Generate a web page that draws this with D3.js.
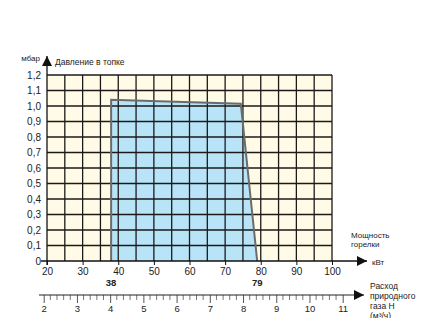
<!DOCTYPE html>
<html>
<head>
<meta charset="utf-8">
<script src="https://cdn.jsdelivr.net/npm/d3@7"></script>
<style>
  body { margin: 0; background: #fff; }
  text { font-family: "Liberation Sans", Arial, sans-serif; fill: #222; }
</style>
</head>
<body>
<div id="chart"></div>
<script>
//Data
const powerTicks = [20, 30, 40, 50, 60, 70, 80, 90, 100];
const pressureTicks = [0, 0.1, 0.2, 0.3, 0.4, 0.5, 0.6, 0.7, 0.8, 0.9, 1.0, 1.1, 1.2];
const areaPower = [38, 38, 74.4, 79];
const areaPressure = [0, 1.04, 1.015, 0];
const markedPower = [38, 79];
const gasTicks = [2, 3, 4, 5, 6, 7, 8, 9, 10, 11];

const width = 422;
const height = 318;

const svg = d3.select("#chart").append("svg").attr("width", width).attr("height", height);

//Scales
const x = d3.scaleLinear().domain([20, 100]).range([47, 332]);
const y = d3.scaleLinear().domain([0, 1.2]).range([261, 75]);
const xGas = d3.scaleLinear().domain([2, 11]).range([43.7, 342.7]);

//Plot background
svg.append("rect")
    .attr("x", x(20)).attr("y", y(1.2))
    .attr("width", x(100) - x(20)).attr("height", y(0) - y(1.2))
    .attr("fill", "#fffbe6");

//Working area
const pts = areaPower.map((p, i) => [x(p), y(areaPressure[i])]);
svg.append("path")
    .attr("d", d3.line()(pts) + "Z")
    .attr("fill", "#b9e4f8")
    .attr("stroke", "none");

//Grid every 5 kW and every 0.1 mbar
const gridG = svg.append("g").attr("stroke", "#1a1a1a").attr("stroke-width", 1.3);
gridG.selectAll("line.v").data(d3.range(25, 101, 5))
    .enter().append("line")
    .attr("x1", d => x(d)).attr("x2", d => x(d))
    .attr("y1", y(0)).attr("y2", y(1.2));
gridG.selectAll("line.h").data(pressureTicks.slice(1))
    .enter().append("line")
    .attr("x1", x(20)).attr("x2", x(100))
    .attr("y1", d => y(d)).attr("y2", d => y(d));

//Outline of the area on top of the grid
svg.append("path")
    .attr("d", d3.line()(pts))
    .attr("fill", "none")
    .attr("stroke", "#6b6b6b")
    .attr("stroke-width", 2);

//Arrow marker
svg.append("defs").append("marker")
    .attr("id", "arrow")
    .attr("viewBox", "0 0 10 10")
    .attr("refX", 10).attr("refY", 5)
    .attr("markerWidth", 10).attr("markerHeight", 10)
    .attr("markerUnits", "userSpaceOnUse")
    .attr("orient", "auto")
    .append("path").attr("d", "M0,0L10,5L0,10Z").attr("fill", "#111");

//x axis
const xAxis = d3.axisBottom(x).tickValues(powerTicks).tickSize(4).tickSizeOuter(0).tickPadding(3);
const gx = svg.append("g").attr("transform", `translate(0, ${y(0)})`).call(xAxis);
gx.select(".domain").remove();
gx.selectAll("line").attr("stroke", "#111");
gx.selectAll("text").style("font-size", "10px").attr("fill", "#222");
svg.append("line")
    .attr("x1", 41).attr("x2", 367)
    .attr("y1", y(0)).attr("y2", y(0))
    .attr("stroke", "#111").attr("stroke-width", 1.3)
    .attr("marker-end", "url(#arrow)");

//y axis
const yAxis = d3.axisLeft(y).tickValues(pressureTicks).tickSize(0).tickPadding(6)
    .tickFormat(d => d === 0 ? "0" : d3.format(".1f")(d).replace(".", ","));
const gy = svg.append("g").attr("transform", `translate(${x(20)}, 0)`).call(yAxis);
gy.select(".domain").remove();
gy.selectAll("text").style("font-size", "10px").attr("fill", "#222");
svg.append("line")
    .attr("x1", x(20)).attr("x2", x(20))
    .attr("y1", y(0) + 4).attr("y2", 56)
    .attr("stroke", "#111").attr("stroke-width", 1.3)
    .attr("marker-end", "url(#arrow)");

//Bold marks for min and max power
svg.selectAll("text.mark").data(markedPower)
    .enter().append("text")
    .attr("x", d => x(d)).attr("y", 285.5)
    .attr("text-anchor", "middle")
    .style("font-size", "9.5px").style("font-weight", "bold")
    .text(d => d);

//Gas flow axis
const gasAxis = d3.axisBottom(xGas).tickValues(gasTicks).tickSize(8).tickSizeOuter(0).tickPadding(2);
const gg = svg.append("g").attr("transform", "translate(0, 295)").call(gasAxis);
gg.select(".domain").remove();
gg.selectAll("line").attr("stroke", "#555");
gg.selectAll("text").style("font-size", "9.5px").attr("fill", "#222");
svg.append("g").selectAll("line")
    .data(d3.range(2, 11.01, 0.2).filter(d => Math.abs(d - Math.round(d)) > 0.01))
    .enter().append("line")
    .attr("x1", d => xGas(d)).attr("x2", d => xGas(d))
    .attr("y1", 295).attr("y2", 300)
    .attr("stroke", "#777");
svg.append("line")
    .attr("x1", 39).attr("x2", 364)
    .attr("y1", 295).attr("y2", 295)
    .attr("stroke", "#222").attr("stroke-width", 1)
    .attr("marker-end", "url(#arrow)");

//Axis titles
svg.append("text").attr("x", 40).attr("y", 61).attr("text-anchor", "end")
    .style("font-size", "8px").text("мбар");
svg.append("text").attr("x", 55).attr("y", 65)
    .style("font-size", "8.5px").text("Давление в топке");
svg.append("text").attr("x", 351).attr("y", 238)
    .style("font-size", "8px").text("Мощность");
svg.append("text").attr("x", 351).attr("y", 246.5)
    .style("font-size", "8px").text("горелки");
svg.append("text").attr("x", 372).attr("y", 265)
    .style("font-size", "8px").text("кВт");
const gasLabel = ["Расход", "природного", "газа H", "(м³/ч)"];
svg.selectAll("text.gas").data(gasLabel)
    .enter().append("text")
    .attr("x", 370).attr("y", (d, i) => 288.5 + i * 10)
    .style("font-size", "8.5px").text(d => d);
</script>
</body>
</html>
